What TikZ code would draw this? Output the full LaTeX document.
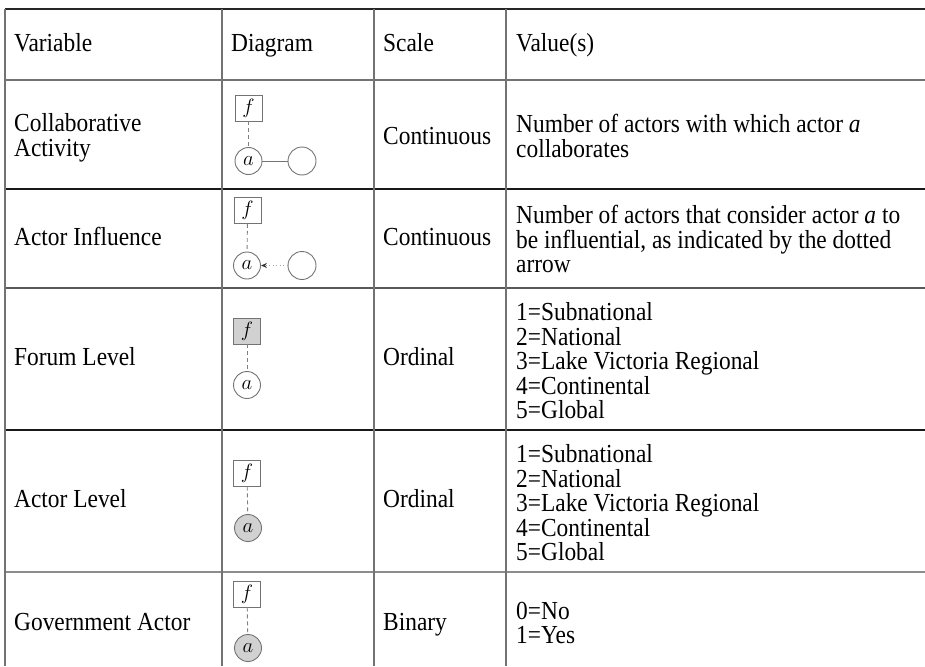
\documentclass[tikz,border=0pt]{standalone}
\usepackage{fontspec}
\setmainfont{Liberation Serif}[FakeStretch=0.9]
\usetikzlibrary{arrows.meta}
\begin{document}
\begin{tikzpicture}[x=1pt,y=-1pt,
  txt/.style={anchor=west,inner sep=0pt,align=left,font=\fontsize{26}{24.5}\selectfont},
  btxt/.style={anchor=base west,inner sep=0pt,font=\fontsize{26}{24.5}\selectfont},
  fbox/.style={draw=black!55,line width=0.9pt,minimum width=27pt,minimum height=26pt,inner sep=0pt,font=\fontsize{21}{21}\selectfont},
  anode/.style={circle,draw=black!55,line width=0.9pt,minimum size=27pt,inner sep=0pt,font=\fontsize{22}{22}\selectfont},
  onode/.style={circle,draw=black!55,line width=0.9pt,minimum size=28pt,inner sep=0pt},
  shaded/.style={fill=black!18},
  dlink/.style={draw=black!50,line width=0.9pt,dash pattern=on 4pt off 3pt},
  hline/.style={line width=1.3pt},
  vline/.style={draw=black!55,line width=1.8pt}]
\useasboundingbox (0,0) rectangle (925,666);
% table rules
\draw[hline,black!85] (5,9) -- (925,9);
\draw[hline,black!55] (5,80) -- (925,80);
\draw[hline,black!90] (5,189) -- (925,189);
\draw[hline,black!65] (5,288) -- (925,288);
\draw[hline,black!90] (5,430) -- (925,430);
\draw[hline,black!45] (5,572) -- (925,572);
\draw[vline] (5,9) -- (5,666);
\draw[vline] (222,9) -- (222,666);
\draw[vline] (374,9) -- (374,666);
\draw[vline] (506,9) -- (506,666);
% header
\node[btxt] (h1) at (14,52) {Variable};
\node[btxt] (h2) at (231,52) {Diagram};
\node[btxt] (h3) at (383,52) {Scale};
\node[btxt] (h4) at (516,52) {Value(s)};
% row 1
\node[txt] (v1) at (14,138) {Collaborative\\Activity};
\node[btxt] (s1) at (383,144) {Continuous};
\node[txt] (w1) at (516,136) {Number of actors with which actor \textit{a}\\collaborates};
\node[fbox] (f1) at (248.5,108) {$f$};
\node[anode] (a1) at (248.5,161) {$a$};
\node[onode] (c1) at (302,161) {};
\draw[dlink] (f1) -- (a1);
\draw[draw=black!55,line width=0.9pt] (a1) -- (c1);
% row 2
\node[btxt] (v2) at (14,245) {Actor Influence};
\node[btxt] (s2) at (383,245) {Continuous};
\node[txt] (w2) at (516,239) {Number of actors that consider actor \textit{a} to\\be influential, as indicated by the dotted\\arrow};
\node[fbox] (f2) at (247.5,210.5) {$f$};
\node[anode] (a2) at (247,265.5) {$a$};
\node[onode] (c2) at (302,265.5) {};
\draw[dlink] (f2) -- (a2);
\draw[draw=black!35,line width=1pt,dash pattern=on 1pt off 2.5pt,-{Stealth[length=6pt,width=5pt,color=black!80]}] (c2) -- (a2);
% row 3
\node[btxt] (v3) at (14,365) {Forum Level};
\node[btxt] (s3) at (383,365) {Ordinal};
\node[txt] (w3) at (516,361) {1=Subnational\\2=National\\3=Lake Victoria Regional\\4=Continental\\5=Global};
\node[fbox,shaded] (f3) at (247,331) {$f$};
\node[anode] (a3) at (247,385) {$a$};
\draw[dlink] (f3) -- (a3);
% row 4
\node[btxt] (v4) at (14,507) {Actor Level};
\node[btxt] (s4) at (383,507) {Ordinal};
\node[txt] (w4) at (516,503) {1=Subnational\\2=National\\3=Lake Victoria Regional\\4=Continental\\5=Global};
\node[fbox] (f4) at (247,473) {$f$};
\node[anode,shaded] (a4) at (248,528) {$a$};
\draw[dlink] (f4) -- (a4);
% row 5
\node[btxt] (v5) at (14,630) {Government Actor};
\node[btxt] (s5) at (383,630) {Binary};
\node[txt] (w5) at (516,623) {0=No\\1=Yes};
\node[fbox] (f5) at (247,594) {$f$};
\node[anode,shaded] (a5) at (248,648) {$a$};
\draw[dlink] (f5) -- (a5);
\end{tikzpicture}
\end{document}
